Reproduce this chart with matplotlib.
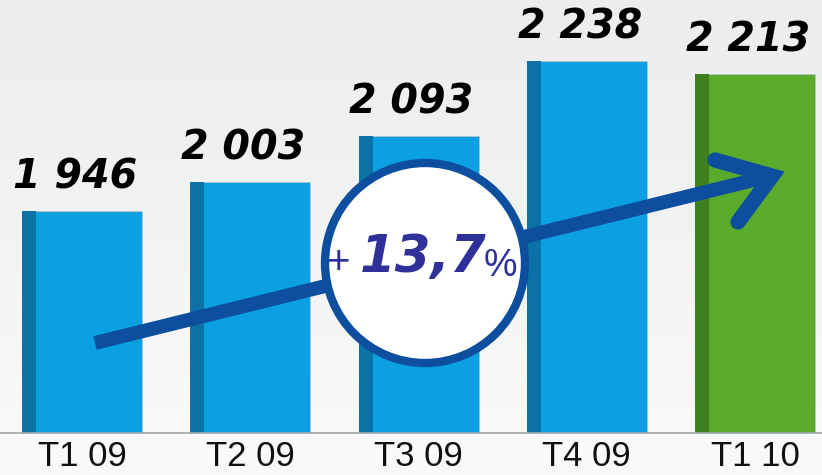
import matplotlib
matplotlib.use('Agg')
import matplotlib.pyplot as plt
import numpy as np
from matplotlib.patches import Ellipse

# Data
quarters = ['T1 09', 'T2 09', 'T3 09', 'T4 09', 'T1 10']
orders = [1946, 2003, 2093, 2238, 2213]
bar_colors = ['#0aa0e2', '#0aa0e2', '#0aa0e2', '#0aa0e2', '#5aab2b']
strip_colors = ['#0b72a6', '#0b72a6', '#0b72a6', '#0b72a6', '#3e7f1e']
growth_label = '13,7'

W, H = 822, 475
fig = plt.figure(figsize=(W / 100, H / 100), dpi=100)

# background gradient
bg = fig.add_axes([0, 0, 1, 1], zorder=0)
grad = np.linspace(0, 1, 256)[:, None] * np.ones((1, 2))
bg.imshow(grad, aspect='auto', cmap=matplotlib.colors.LinearSegmentedColormap.from_list(
    'bg', ['#eceeee', '#f2f3f3', '#fafafa']), extent=[0, 1, 0, 1], origin='upper')
bg.set_axis_off()

base_px = 433
ax = fig.add_axes([0, (H - base_px) / H, 1, base_px / H], zorder=1)
ax.patch.set_alpha(0)

x = np.arange(len(quarters))
px_per_unit = 168.25
width = 120 / px_per_unit
strip = 14 / px_per_unit

ax.bar(x, orders, width=width, color=bar_colors, edgecolor='#b8c4c8', linewidth=0.6, zorder=2)
ax.bar(x - width / 2, orders, width=strip, align='edge', color=strip_colors, linewidth=0, zorder=2)

ax.set_xlim(-82 / px_per_unit, (W - 82) / px_per_unit)
ax.set_ylim(1514, 2357)

for xi, v in zip(x, orders):
    ax.annotate(f'{v:,}'.replace(',', ' '), (xi, v), xytext=(-5, 16), textcoords='offset points',
                ha='center', va='baseline', fontsize=28.5, fontweight='bold', fontstyle='italic',
                family='DejaVu Sans', color='black', zorder=5)

ax.set_xticks(x)
ax.set_xticklabels(quarters, fontsize=25, family='Liberation Sans', color='#111111')
ax.tick_params(axis='x', length=0, pad=5)
ax.set_yticks([])
for s in ['top', 'right', 'left']:
    ax.spines[s].set_visible(False)
ax.spines['bottom'].set_color('#a0a8aa')
ax.spines['bottom'].set_linewidth(1.2)


def fx(px):
    return px / W


def fy(py):
    return 1 - py / H


# trend arrow
arrow_col = '#0d4f9e'
fig.add_artist(plt.Line2D([fx(95), fx(770)], [fy(343), fy(176)], color=arrow_col,
                          linewidth=10, solid_capstyle='butt', zorder=3))
fig.add_artist(plt.Line2D([fx(715), fx(772), fx(738)], [fy(160), fy(176), fy(222)],
                          color=arrow_col, linewidth=11, solid_capstyle='round',
                          solid_joinstyle='miter', zorder=3))

# growth circle
fig.add_artist(Ellipse((fx(425), fy(263)), 200 / W, 200 / H, transform=fig.transFigure,
                       facecolor='white', edgecolor=arrow_col, linewidth=6, zorder=4))
txt_col = '#30309a'
fig.text(fx(339), fy(263), '+', fontsize=29, color=txt_col, ha='center', va='center',
         family='Liberation Sans', zorder=6)
fig.text(fx(423), fy(258), growth_label, fontsize=37, fontweight='bold', fontstyle='italic',
         color=txt_col, ha='center', va='center', family='DejaVu Sans', zorder=6)
fig.text(fx(500), fy(266), '%', fontsize=27, color=txt_col, ha='center', va='center',
         family='Liberation Sans', zorder=6)

fig.savefig('out.png', dpi=100)
